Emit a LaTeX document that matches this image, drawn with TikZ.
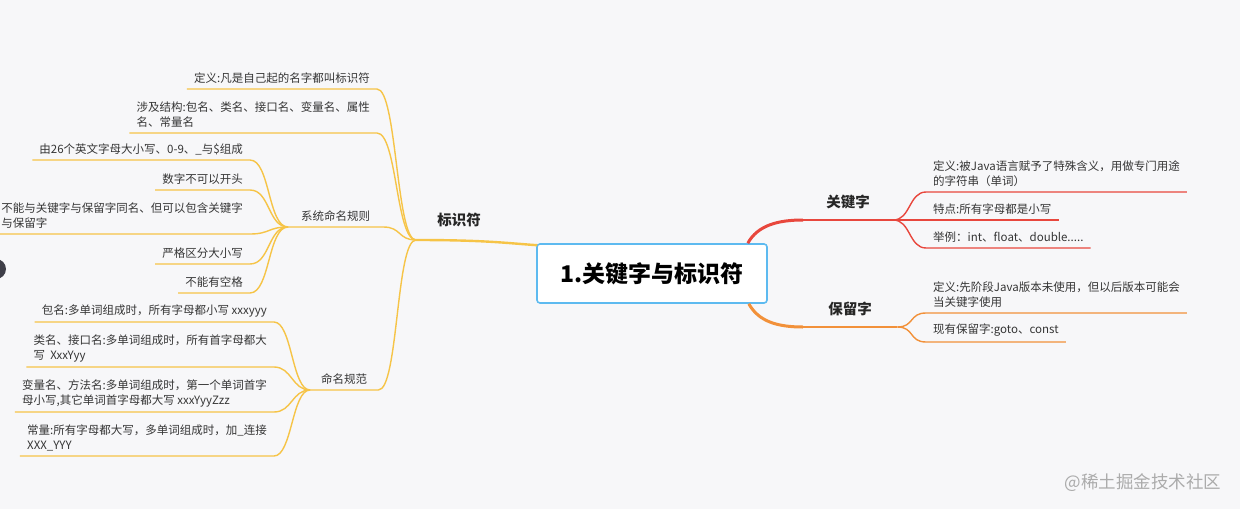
\documentclass[tikz,border=0pt]{standalone}
\usepackage{fontspec}
\setmainfont{Noto Sans CJK SC}
\usetikzlibrary{calc,positioning}
\definecolor{bgc}{HTML}{F7F7F9}
\definecolor{txt}{HTML}{353535}
\definecolor{dark}{HTML}{262626}
\definecolor{ylw}{HTML}{F6C447}
\definecolor{rd}{HTML}{E8473D}
\definecolor{org}{HTML}{F2913A}
\definecolor{rootb}{HTML}{5DBAF0}
\definecolor{dotc}{HTML}{3E3E48}
\definecolor{wmc}{HTML}{ABABAB}

\begin{document}
\begin{tikzpicture}[
  x=1pt,y=-1pt,
  leaf/.style={font=\fontsize{11.5}{15}\selectfont,text=txt,align=left,inner xsep=7pt,inner ysep=5pt},
  sub/.style={font=\fontsize{11.5}{15}\selectfont,text=txt,inner xsep=0pt,inner ysep=5pt},
  topic/.style={font=\fontsize{14.5}{17}\selectfont\bfseries,text=dark,inner xsep=0pt,inner ysep=11pt},
  root/.style={draw=rootb,line width=1.6pt,fill=white,rounded corners=3pt,minimum width=230pt,minimum height=59pt,font=\fontsize{23}{26}\selectfont\bfseries},
  wm/.style={font=\fontsize{17.5}{19}\selectfont,text=wmc},
  ybr/.style={draw=ylw,line width=1.4pt},
  rbr/.style={draw=rd,line width=1.4pt},
  obr/.style={draw=org,line width=1.4pt},
  lft/.style={to path={.. controls +(-#1,0) and +(#1,0) .. (\tikztotarget)}},
  lft/.default=20,
  rgt/.style={to path={.. controls +(#1,0) and +(-#1,0) .. (\tikztotarget)}},
  rgt/.default=17
]
\fill[bgc] (0,0) rectangle (1240,509);
\useasboundingbox (0,0) rectangle (1240,509);
\fill[dotc] (-4,269) circle (10);

\node[root] (root) at (652,273.5) {1.关键字与标识符};

% 标识符
\coordinate (idHub) at (416,240);
\node[topic] (idf) at (459,220) {标识符};
\node[leaf,anchor=south east] (idDef) at (377,89) {定义:凡是自己起的名字都叫标识符};
\node[leaf,anchor=south east] (idScope) at (377,133) {涉及结构:包名、类名、接口名、变量名、属性\\名、常量名};
\node[sub,minimum width=95pt,anchor=south west] (sys) at (288,227) {系统命名规则};
\node[sub,minimum width=68pt,anchor=south west] (nm) at (310,390) {命名规范};

% 系统命名规则
\node[leaf,anchor=south east] (sysChars) at (250,160) {由26个英文字母大小写、0-9、\_与\$组成};
\node[leaf,anchor=south east] (sysDigit) at (250,190) {数字不可以开头};
\node[leaf,anchor=south east] (sysKw) at (250,234) {不能与关键字与保留字同名、但可以包含关键字\\与保留字};
\node[leaf,anchor=south east] (sysCase) at (250,264) {严格区分大小写};
\node[leaf,anchor=south east] (sysSpace) at (250,293) {不能有空格};

% 命名规范
\node[leaf,anchor=south east] (nmPkg) at (274,322) {包名:多单词组成时，所有字母都小写 xxxyyy};
\node[leaf,anchor=south east] (nmCls) at (274,367) {类名、接口名:多单词组成时，所有首字母都大\\写\ \ XxxYyy};
\node[leaf,anchor=south east] (nmVar) at (274,412) {变量名、方法名:多单词组成时，第一个单词首字\\母小写,其它单词首字母都大写 xxxYyyZzz};
\node[leaf,anchor=south east] (nmConst) at (274,456) {常量:所有字母都大写，多单词组成时，加\_连接\\XXX\_YYY};

% 关键字 / 保留字
\node[topic,minimum width=90pt,anchor=south west] (kw) at (803,220) {关键字};
\node[leaf,anchor=south west] (kwDef) at (926,192) {定义:被Java语言赋予了特殊含义，用做专门用途\\的字符串（单词）};
\node[leaf,anchor=south west] (kwCase) at (926,220) {特点:所有字母都是小写};
\node[leaf,anchor=south west] (kwEx) at (926,248) {举例：int、float、double.....};
\node[topic,minimum width=94pt,anchor=south west] (res) at (803,327) {保留字};
\node[leaf,anchor=south west] (resDef) at (926,313) {定义:先阶段Java版本未使用，但以后版本可能会\\当关键字使用};
\node[leaf,anchor=south west] (resNow) at (926,342) {现有保留字:goto、const};

\node[wm] (mark) at (1143,483) {@稀土掘金技术社区};

% branches
\draw[ybr,line width=2.4pt] (idHub) .. controls +(70,0) and +(-30,-2) .. ($(root.north west)+(1,2)$);
\draw[ybr] (idHub) to[lft] (idDef.south east) -- (idDef.south west);
\draw[ybr] (idHub) to[lft] (idScope.south east) -- (idScope.south west);
\draw[ybr] (idHub) to[lft=18] (sys.south east) -- (sys.south west);
\draw[ybr] (idHub) to[lft] (nm.south east) -- (nm.south west);
\foreach \n in {sysChars,sysDigit,sysKw,sysCase,sysSpace}
  \draw[ybr] (sys.south west) to[lft] (\n.south east) -- (\n.south west);
\foreach \n in {nmPkg,nmCls,nmVar,nmConst}
  \draw[ybr] (nm.south west) to[lft=18] (\n.south east) -- (\n.south west);

\draw[rbr,line width=3pt] ($(root.north east)+(-20,0)$) .. controls +(10,-18) and +(-25,0) .. (kw.south west);
\draw[rbr,line width=2pt] (kw.south west) -- (kw.south east);
\foreach \n in {kwDef,kwCase,kwEx}
  \draw[rbr] (kw.south east) to[rgt] (\n.south west) -- (\n.south east);

\draw[obr,line width=3pt] ($(root.south east)+(-19,0)$) .. controls +(10,18) and +(-25,0) .. (res.south west);
\draw[obr,line width=2pt] (res.south west) -- (res.south east);
\foreach \n in {resDef,resNow}
  \draw[obr] (res.south east) to[rgt] (\n.south west) -- (\n.south east);
\end{tikzpicture}
\end{document}
